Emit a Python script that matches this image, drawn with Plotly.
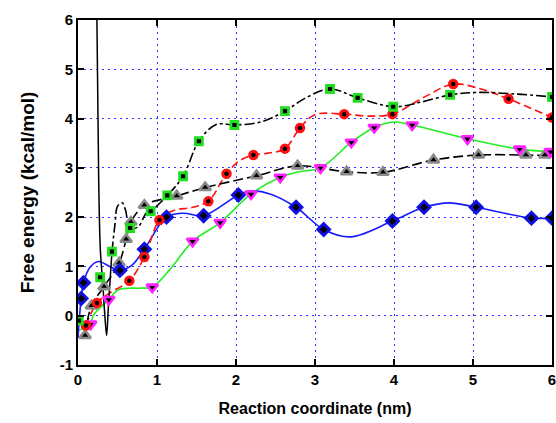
import plotly.graph_objects as go

# ---------------- data ----------------
# black squares (green rim), black dash-dot curve
sq_x = [0.01, 0.28, 0.43, 0.66, 0.92, 1.13, 1.33, 1.53, 1.98, 2.62, 3.19, 3.54, 3.99, 4.71, 6.0]
sq_y = [-0.1, 0.78, 1.3, 1.78, 2.12, 2.44, 2.83, 3.54, 3.87, 4.15, 4.6, 4.42, 4.24, 4.48, 4.44]
sq_curve_x = [0.43, 0.47, 0.50, 0.56, 0.60, 0.66, 0.76, 0.86, 0.92, 1.13, 1.33, 1.53, 1.75, 1.98,
              2.31, 2.62, 2.86, 3.19, 3.54, 3.99, 4.33, 4.71, 5.05, 5.52, 6.0]
sq_curve_y = [1.3, 1.88, 2.22, 2.29, 2.15, 1.78, 1.80, 2.07, 2.12, 2.44, 2.83, 3.54, 3.88, 3.87,
              3.93, 4.15, 4.40, 4.6, 4.42, 4.24, 4.33, 4.48, 4.53, 4.50, 4.44]
# solid spline overshoot of the square curve near x = 0.25-0.4
sq_spike_x = [0.236, 0.262, 0.283, 0.313, 0.34, 0.362, 0.385, 0.43]
sq_spike_y = [6.5, 2.74, 1.33, 0.66, 0.0, -0.40, 0.2, 1.3]

# red circles, red dashed curve
rd_x = [0.10, 0.24, 0.65, 0.84, 1.03, 1.65, 1.88, 2.22, 2.62, 2.81, 3.37, 3.98, 4.75, 5.45, 6.0]
rd_y = [-0.2, 0.26, 0.71, 1.19, 1.94, 2.32, 2.88, 3.26, 3.39, 3.81, 4.09, 4.09, 4.70, 4.40, 4.02]
rd_curve_x = [0.10, 0.24, 0.40, 0.65, 0.84, 1.03, 1.20, 1.45, 1.65, 1.88, 2.05, 2.22, 2.42, 2.62,
              2.81, 3.0, 3.37, 3.7, 3.98, 4.4, 4.75, 5.1, 5.45, 6.0]
rd_curve_y = [-0.2, 0.26, 0.46, 0.71, 1.19, 1.94, 2.13, 2.2, 2.32, 2.88, 3.15, 3.26, 3.30, 3.39,
              3.81, 4.08, 4.09, 4.05, 4.09, 4.45, 4.70, 4.60, 4.40, 4.02]

# blue diamonds, blue solid curve
bl_x = [0.04, 0.07, 0.53, 0.84, 1.12, 1.59, 2.03, 2.76, 3.11, 3.98, 4.38, 5.04, 5.74, 6.0]
bl_y = [0.35, 0.67, 0.92, 1.35, 2.0, 2.03, 2.45, 2.2, 1.75, 1.92, 2.2, 2.2, 1.98, 1.98]
bl_curve_x = [0.0, 0.04, 0.07, 0.15, 0.26, 0.40, 0.53, 0.68, 0.84, 1.12, 1.33, 1.59, 2.03, 2.18,
              2.43, 2.76, 3.11, 3.45, 3.98, 4.38, 4.70, 5.04, 5.74, 6.0]
bl_curve_y = [-0.45, 0.35, 0.67, 0.98, 1.1, 1.0, 0.92, 1.02, 1.35, 2.0, 2.08, 2.03, 2.45, 2.53,
              2.47, 2.2, 1.75, 1.60, 1.92, 2.2, 2.29, 2.2, 1.98, 1.98]

# magenta inverted triangles, green solid curve
mg_x = [0.16, 0.39, 0.94, 1.45, 1.80, 2.19, 2.56, 3.07, 3.46, 3.75, 4.23, 4.93, 5.59, 5.98]
mg_y = [-0.17, 0.33, 0.58, 1.51, 1.89, 2.47, 2.81, 3.0, 3.52, 3.82, 3.87, 3.59, 3.38, 3.33]
gr_curve_x = [0.0, 0.16, 0.19, 0.39, 0.52, 0.80, 0.94, 1.17, 1.45, 1.80, 2.19, 2.56, 2.80, 3.07,
              3.46, 3.75, 4.0, 4.23, 4.93, 5.59, 5.98, 6.0]
gr_curve_y = [-0.3, -0.17, 0.0, 0.33, 0.53, 0.56, 0.58, 0.95, 1.51, 1.89, 2.47, 2.81, 2.92, 3.0,
              3.52, 3.82, 3.93, 3.87, 3.59, 3.38, 3.33, 3.33]

# gray triangles, black dashed curve
tr_x = [0.09, 0.17, 0.33, 0.52, 0.61, 0.67, 0.84, 1.25, 1.61, 2.26, 2.78, 3.40, 3.86, 4.50, 5.07, 5.67, 5.91]
tr_y = [-0.40, 0.20, 0.59, 1.07, 1.55, 1.90, 2.24, 2.43, 2.60, 2.84, 3.04, 2.92, 2.91, 3.16, 3.26, 3.26, 3.26]
tr_curve_x = tr_x + [6.0]
tr_curve_y = tr_y + [3.30]

x_ticks = [0, 1, 2, 3, 4, 5, 6]
y_ticks = [-1, 0, 1, 2, 3, 4, 5, 6]

# ---------------- figure ----------------
fig = go.Figure()

def curve(x, y, color, dash, width=1.6):
    fig.add_trace(go.Scatter(x=x, y=y, mode="lines",
                             line=dict(color=color, width=width, dash=dash, shape="spline", smoothing=1.0),
                             hoverinfo="skip", showlegend=False))

curve(gr_curve_x, gr_curve_y, "#22ee22", "solid")
curve(bl_curve_x, bl_curve_y, "#1a1aff", "solid")
curve(rd_curve_x, rd_curve_y, "#ff1010", "8px,4px")
curve(tr_curve_x, tr_curve_y, "#000000", "10px,4px")
curve(sq_curve_x, sq_curve_y, "#000000", "10px,3px,3px,3px")
curve(sq_spike_x, sq_spike_y, "#000000", "solid", 1.5)

def marks(x, y, symbol, size, rim, rimw):
    fig.add_trace(go.Scatter(x=x, y=y, mode="markers",
                             marker=dict(symbol=symbol, size=size, color="#000000",
                                         line=dict(color=rim, width=rimw)),
                             showlegend=False))

marks(tr_x, tr_y, "triangle-up", 10, "#8a8a8a", 2.6)
marks(mg_x, mg_y, "triangle-down", 10, "#ff22ff", 2.6)
marks(bl_x, bl_y, "diamond", 9, "#1010e0", 3)
marks(rd_x, rd_y, "circle", 7.5, "#ff1010", 3)
marks(sq_x, sq_y, "square", 7, "#22dd22", 2.8)

font_family = "Arial, Liberation Sans, sans-serif"
axis_common = dict(showline=True, linecolor="black", linewidth=2, mirror="ticks",
                   ticks="inside", ticklen=6, tickwidth=2, tickcolor="black",
                   showgrid=True, gridcolor="#3333ff", gridwidth=1.3, griddash="2px,4px",
                   zeroline=False, automargin=False, ticklabeloverflow="allow",
                   tickfont=dict(family=font_family, size=15, color="black", weight="bold"))

fig.update_xaxes(range=[0, 6], tickvals=x_ticks, ticktext=[str(v) for v in x_ticks],
                 title=dict(text="Reaction coordinate (nm)", standoff=16,
                            font=dict(family=font_family, size=16, color="black", weight="bold")),
                 **axis_common)
fig.update_yaxes(range=[-1, 6], tickvals=y_ticks, ticktext=[str(v) for v in y_ticks],
                 title=dict(text="Free energy (kcal/mol)", standoff=20,
                            font=dict(family=font_family, size=19, color="black", weight="bold")),
                 **axis_common)

fig.update_layout(width=556, height=423, margin=dict(l=78, r=4, t=20, b=58),
                  paper_bgcolor="white", plot_bgcolor="white", showlegend=False)

fig.write_html("out.html", config={"displayModeBar": False},
               post_script="document.body.style.margin='0px';")
